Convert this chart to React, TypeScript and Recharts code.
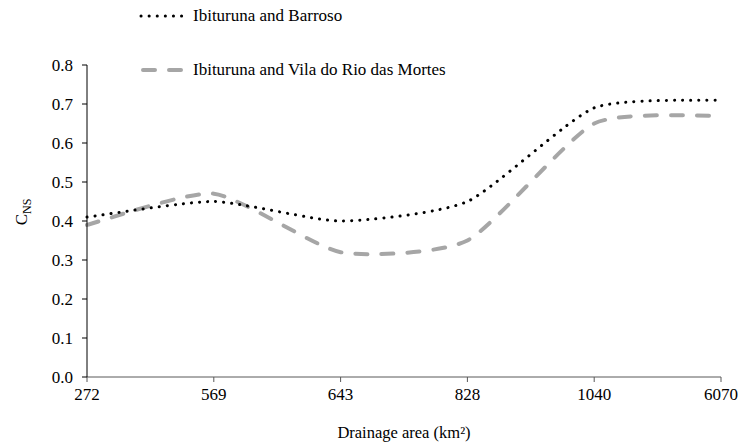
import React from "react";
import { LineChart, Line, XAxis, YAxis } from "recharts";

// Drainage area categories (km²)
const areas = ["272", "569", "643", "828", "1040", "6070"];
// Nash–Sutcliffe coefficients per station pair
const barroso = [0.41, 0.45, 0.4, 0.45, 0.69, 0.71];
const vilaRioMortes = [0.39, 0.47, 0.32, 0.35, 0.65, 0.67];
const yTicks = [0, 0.1, 0.2, 0.3, 0.4, 0.5, 0.6, 0.7, 0.8];

const seriesNames = ["Ibituruna and Barroso", "Ibituruna and Vila do Rio das Mortes"];

const data = areas.map((a, i) => ({
  area: a,
  barroso: barroso[i],
  vila: vilaRioMortes[i],
}));

const FONT = "Liberation Serif";

const DOT_STYLE = { stroke: "#000000", strokeWidth: 3, strokeDasharray: "0.1 8", strokeLinecap: "round" as const };
const DASH_STYLE = { stroke: "#A6A6A6", strokeWidth: 4, strokeDasharray: "12 14", strokeLinecap: "round" as const };

// Lightly smoothed spline (reduced-tension cardinal bezier segments)
function smoothCurve(context: any) {
  let pts: [number, number][] = [];
  const k = 1 / 10;
  return {
    areaStart() {},
    areaEnd() {},
    lineStart() {
      pts = [];
    },
    point(x: number, y: number) {
      pts.push([+x, +y]);
    },
    lineEnd() {
      if (!pts.length) return;
      context.moveTo(pts[0][0], pts[0][1]);
      for (let i = 0; i < pts.length - 1; i++) {
        const p0 = pts[Math.max(i - 1, 0)];
        const p1 = pts[i];
        const p2 = pts[i + 1];
        const p3 = pts[Math.min(i + 2, pts.length - 1)];
        const c1x = p1[0] + (p2[0] - p0[0]) * k;
        const c1y = p1[1] + (p2[1] - p0[1]) * k;
        const c2x = p2[0] - (p3[0] - p1[0]) * k;
        const c2y = p2[1] - (p3[1] - p1[1]) * k;
        context.bezierCurveTo(c1x, c1y, c2x, c2y, p2[0], p2[1]);
      }
    },
  };
}

export default function App() {
  return (
    <div
      style={{
        position: "absolute",
        left: 0,
        top: 0,
        width: 740,
        height: 445,
        background: "#fff",
        fontFamily: FONT,
      }}
    >
      <LineChart
        width={740}
        height={445}
        data={data}
        margin={{ top: 65, right: 19, bottom: 0, left: 0 }}
      >
        <XAxis
          dataKey="area"
          interval={0}
          height={68}
          axisLine={{ stroke: "#595959", strokeWidth: 1 }}
          tickLine={{ stroke: "#595959" }}
          tickSize={5}
          tickMargin={6}
          tick={{ fontSize: 17, fill: "#000", fontFamily: FONT }}
          label={{
            value: "Drainage area (km²)",
            position: "insideBottom",
            offset: 7,
            fontFamily: FONT,
            fontSize: 16.5,
            fill: "#000",
          }}
        />
        <YAxis
          domain={[0, 0.8]}
          ticks={yTicks}
          width={87}
          interval={0}
          axisLine={{ stroke: "#000", strokeWidth: 1 }}
          tickLine={{ stroke: "#000" }}
          tickSize={5}
          tickMargin={9}
          tickFormatter={(v: number) => v.toFixed(1)}
          tick={{ fontSize: 17, fill: "#000", fontFamily: FONT }}
          label={() => (
            <text
              x={27}
              y={212}
              transform="rotate(-90 27 212)"
              textAnchor="middle"
              fontFamily={FONT}
              fontSize={17}
              fill="#000"
            >
              C
              <tspan fontSize={12} dy={4}>NS</tspan>
            </text>
          )}
        />
        <Line
          type={smoothCurve as any}
          dataKey="vila"
          name={seriesNames[1]}
          dot={false}
          activeDot={false}
          isAnimationActive={false}
          {...DASH_STYLE}
        />
        <Line
          type={smoothCurve as any}
          dataKey="barroso"
          name={seriesNames[0]}
          dot={false}
          activeDot={false}
          isAnimationActive={false}
          {...DOT_STYLE}
        />
      </LineChart>
      <svg width={740} height={90} style={{ position: "absolute", left: 0, top: 0, pointerEvents: "none" }}>
        <line x1={141} y1={16} x2={188} y2={16} {...DOT_STYLE} />
        <text x={193} y={21} fontFamily={FONT} fontSize={17} fill="#000">
          {seriesNames[0]}
        </text>
        <line x1={143} y1={70} x2={186} y2={70} {...DASH_STYLE} />
        <text x={193} y={75} fontFamily={FONT} fontSize={17} fill="#000">
          {seriesNames[1]}
        </text>
      </svg>
    </div>
  );
}
